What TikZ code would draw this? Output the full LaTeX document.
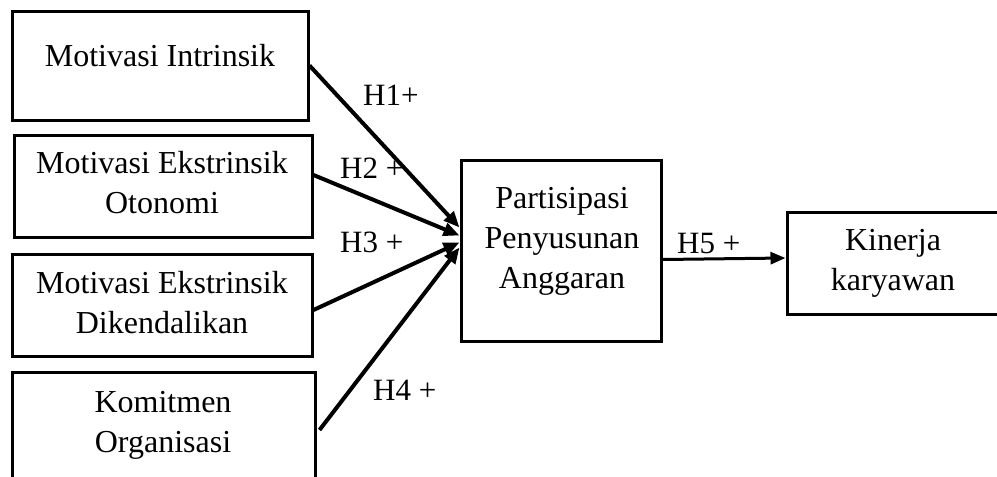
\documentclass[tikz,border=0pt]{standalone}
\usepackage{fontspec}
\setmainfont{Liberation Serif}
\usetikzlibrary{arrows.meta}
\tikzset{
  box/.style={draw, line width=3pt, inner sep=0pt},
  txt/.style={inner sep=0pt, align=center, anchor=base, font=\fontsize{32}{40}\selectfont},
  lab/.style={inner sep=0pt, anchor=base west, font=\fontsize{31}{36}\selectfont},
  arr/.style={line width=4pt, -{Triangle[length=16pt,width=13pt]}},
}
\begin{document}
\begin{tikzpicture}[x=1pt,y=-1pt]
\useasboundingbox (0,0) rectangle (997,477);
% boxes
\node[box, minimum width=296pt, minimum height=109pt] (b1) at (160,65.5) {};
\node[box, minimum width=298pt, minimum height=102pt] (b2) at (163,186) {};
\node[box, minimum width=300pt, minimum height=102pt] (b3) at (162,305) {};
\node[box, minimum width=303pt, minimum height=124pt] (b4) at (163.5,434) {};
\node[box, minimum width=200pt, minimum height=181pt] (pb) at (561,250.5) {};
\node[box, minimum width=224pt, minimum height=102pt] (kb) at (899,263) {};
% texts (anchor = baseline of last line)
\node[txt] (t1) at (160,66) {Motivasi Intrinsik};
\node[txt] (t2) at (162,213) {Motivasi Ekstrinsik\\Otonomi};
\node[txt] (t3) at (162,333) {Motivasi Ekstrinsik\\Dikendalikan};
\node[txt] (t4) at (163,452) {Komitmen\\Organisasi};
\node[txt] (tp) at (562,288) {Partisipasi\\Penyusunan\\Anggaran};
\node[txt] (tk) at (893,290) {Kinerja\\karyawan};
% connectors
\draw[arr] ([yshift=0pt]b1.east) -- ([yshift=23pt]pb.west);
\draw[arr] ([yshift=11pt]b2.east) -- ([yshift=15pt]pb.west);
\draw[arr] ([yshift=-5pt]b3.east) -- ([yshift=8pt]pb.west);
\draw[arr] ([xshift=3pt,yshift=4pt]b4.east) -- ([yshift=3pt]pb.west);
\draw[line width=3pt, -{Triangle[length=15pt,width=12pt]}] ([yshift=-9pt]pb.east) -- ([yshift=5pt]kb.west);
% labels
\node[lab] (h1) at (363,105) {H1+};
\node[lab] (h2) at (340,178) {H2 +};
\node[lab] (h3) at (340,252) {H3 +};
\node[lab] (h4) at (373,400) {H4 +};
\node[lab] (h5) at (677,253) {H5 +};
\end{tikzpicture}
\end{document}
